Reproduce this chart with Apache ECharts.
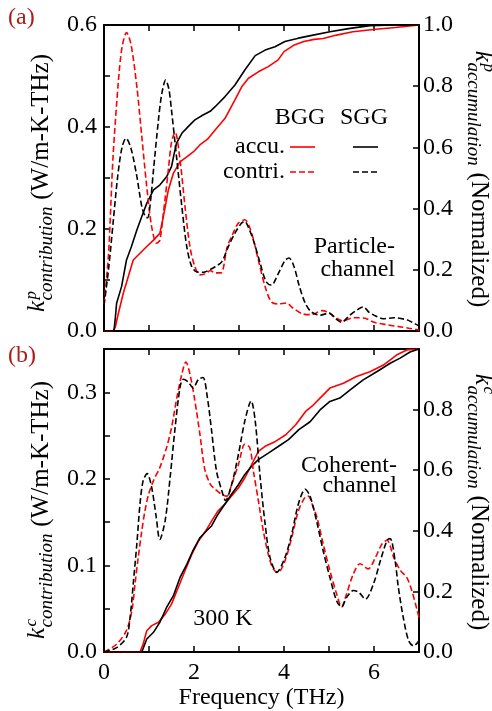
<!DOCTYPE html>
<html>
<head>
<meta charset="utf-8">
<script src="https://cdn.jsdelivr.net/npm/echarts@6/dist/echarts.min.js"></script>
<style>
html,body{margin:0;padding:0;background:#fff;}
#chart{width:492px;height:711px;}
</style>
</head>
<body>
<div id="chart"></div>
<script>
// ---------- data (frequency THz, value) ----------
const xTicks = [0, 2, 4, 6];
// (a) particle channel, contribution (W/m-K-THz)
const bggContribP = [[0,0.052],[0.1,0.15],[0.2,0.34],[0.32,0.49],[0.4,0.556],[0.5,0.585],[0.6,0.562],[0.73,0.479],[0.84,0.381],[0.95,0.283],[1.06,0.204],[1.17,0.172],[1.24,0.178],[1.32,0.231],[1.43,0.316],[1.5,0.37],[1.58,0.39],[1.69,0.335],[1.8,0.244],[1.91,0.165],[2.02,0.126],[2.13,0.11],[2.25,0.112],[2.36,0.118],[2.48,0.114],[2.6,0.114],[2.74,0.165],[2.87,0.192],[2.99,0.212],[3.13,0.218],[3.28,0.192],[3.43,0.139],[3.58,0.087],[3.72,0.057],[3.87,0.053],[4.05,0.055],[4.2,0.045],[4.4,0.034],[4.6,0.032],[4.85,0.04],[5.0,0.036],[5.15,0.026],[5.3,0.02],[5.55,0.026],[5.8,0.025],[6.0,0.017],[6.3,0.012],[6.6,0.008],[6.8,0.005],[7.0,0.002]];
const sggContribP = [[0,0.05],[0.1,0.12],[0.2,0.21],[0.3,0.3],[0.4,0.36],[0.49,0.378],[0.6,0.358],[0.73,0.303],[0.84,0.244],[0.92,0.224],[0.97,0.222],[1.04,0.26],[1.1,0.316],[1.21,0.414],[1.28,0.463],[1.37,0.492],[1.44,0.475],[1.5,0.433],[1.62,0.335],[1.73,0.244],[1.84,0.165],[1.95,0.126],[2.06,0.116],[2.2,0.115],[2.35,0.12],[2.47,0.126],[2.62,0.136],[2.76,0.165],[2.91,0.192],[3.06,0.212],[3.13,0.215],[3.2,0.205],[3.32,0.178],[3.47,0.133],[3.6,0.097],[3.72,0.09],[3.87,0.112],[4.02,0.138],[4.11,0.143],[4.22,0.127],[4.34,0.088],[4.47,0.055],[4.6,0.038],[4.8,0.031],[5.0,0.035],[5.15,0.024],[5.28,0.017],[5.45,0.03],[5.6,0.04],[5.76,0.047],[5.9,0.036],[6.05,0.029],[6.2,0.024],[6.45,0.026],[6.73,0.022],[6.85,0.017],[7.0,0.01]];
// (a) particle channel, accumulation (normalized)
const bggAccuP = [[0,0],[0.2,0],[0.25,0.012],[0.32,0.058],[0.43,0.124],[0.54,0.178],[0.65,0.232],[0.8,0.254],[0.95,0.276],[1.1,0.297],[1.24,0.319],[1.3,0.36],[1.36,0.406],[1.43,0.461],[1.54,0.515],[1.69,0.553],[1.84,0.569],[1.99,0.586],[2.13,0.608],[2.3,0.627],[2.47,0.657],[2.69,0.695],[2.91,0.755],[3.06,0.798],[3.21,0.826],[3.43,0.847],[3.65,0.864],[3.87,0.886],[4.0,0.913],[4.23,0.935],[4.44,0.946],[4.67,0.953],[4.87,0.956],[5.17,0.967],[5.53,0.978],[6.04,0.986],[6.48,0.992],[7.0,1.0]];
const sggAccuP = [[0,0],[0.22,0],[0.25,0.04],[0.28,0.091],[0.39,0.145],[0.5,0.232],[0.61,0.276],[0.73,0.33],[0.84,0.374],[0.95,0.417],[1.1,0.461],[1.24,0.477],[1.39,0.504],[1.5,0.537],[1.56,0.58],[1.61,0.613],[1.73,0.646],[1.87,0.668],[2.02,0.69],[2.2,0.706],[2.36,0.718],[2.47,0.733],[2.69,0.766],[2.91,0.804],[3.13,0.853],[3.36,0.9],[3.58,0.918],[3.8,0.929],[4.02,0.946],[4.32,0.957],[4.62,0.966],[5.02,0.978],[5.47,0.989],[5.91,0.998],[6.43,1.0],[7.0,1.0]];
// (b) coherent channel, contribution (W/m-K-THz)
const bggContribC = [[0,0],[0.28,0.009],[0.5,0.025],[0.62,0.048],[0.69,0.079],[0.76,0.109],[0.84,0.14],[0.91,0.163],[0.99,0.182],[1.1,0.198],[1.24,0.213],[1.39,0.236],[1.5,0.259],[1.62,0.294],[1.73,0.321],[1.82,0.335],[1.91,0.321],[2.02,0.29],[2.13,0.252],[2.24,0.211],[2.36,0.194],[2.47,0.188],[2.62,0.182],[2.73,0.18],[2.84,0.194],[2.99,0.217],[3.13,0.24],[3.24,0.236],[3.32,0.209],[3.43,0.175],[3.54,0.14],[3.65,0.113],[3.76,0.096],[3.87,0.092],[4.02,0.105],[4.17,0.132],[4.32,0.163],[4.47,0.179],[4.54,0.18],[4.65,0.167],[4.73,0.156],[4.87,0.125],[5.02,0.094],[5.17,0.067],[5.28,0.052],[5.39,0.067],[5.54,0.09],[5.69,0.102],[5.87,0.096],[6.03,0.109],[6.18,0.125],[6.29,0.129],[6.44,0.109],[6.59,0.094],[6.73,0.086],[6.84,0.071],[6.96,0.048],[7.0,0.04]];
const sggContribC = [[0,0],[0.28,0.005],[0.5,0.017],[0.58,0.04],[0.65,0.079],[0.73,0.125],[0.8,0.171],[0.87,0.198],[0.96,0.206],[1.06,0.19],[1.16,0.156],[1.24,0.13],[1.36,0.152],[1.47,0.202],[1.58,0.259],[1.69,0.306],[1.76,0.315],[1.87,0.312],[1.98,0.305],[2.1,0.315],[2.2,0.317],[2.3,0.293],[2.39,0.256],[2.5,0.209],[2.62,0.186],[2.7,0.175],[2.84,0.194],[2.99,0.229],[3.13,0.267],[3.27,0.29],[3.36,0.267],[3.47,0.202],[3.58,0.148],[3.69,0.109],[3.84,0.092],[4.02,0.109],[4.17,0.136],[4.32,0.171],[4.47,0.188],[4.58,0.18],[4.73,0.15],[4.87,0.117],[5.02,0.086],[5.17,0.059],[5.28,0.052],[5.39,0.063],[5.54,0.071],[5.66,0.069],[5.81,0.061],[5.99,0.079],[6.14,0.105],[6.29,0.129],[6.36,0.131],[6.47,0.105],[6.54,0.075],[6.65,0.04],[6.77,0.013],[6.88,0.007],[7.0,0.013]];
// (b) coherent channel, accumulation (normalized)
const bggAccuC = [[0,0],[0.8,0],[0.87,0.026],[0.95,0.07],[1.06,0.087],[1.21,0.098],[1.36,0.125],[1.5,0.158],[1.65,0.213],[1.8,0.268],[1.95,0.322],[2.1,0.366],[2.24,0.395],[2.39,0.432],[2.53,0.465],[2.68,0.487],[2.83,0.514],[2.99,0.542],[3.13,0.575],[3.28,0.618],[3.43,0.662],[3.58,0.679],[3.81,0.695],[4.04,0.717],[4.26,0.75],[4.48,0.794],[4.63,0.812],[4.8,0.838],[5.02,0.871],[5.32,0.887],[5.61,0.909],[5.91,0.925],[6.21,0.947],[6.5,0.98],[6.73,0.997],[7.0,1.0]];
const sggAccuC = [[0,0],[0.84,0],[0.95,0.043],[1.1,0.065],[1.24,0.098],[1.39,0.147],[1.54,0.185],[1.69,0.246],[1.84,0.289],[1.99,0.339],[2.13,0.377],[2.28,0.4],[2.39,0.416],[2.53,0.454],[2.68,0.487],[2.83,0.52],[2.99,0.553],[3.13,0.586],[3.28,0.613],[3.43,0.635],[3.66,0.657],[3.88,0.679],[4.1,0.701],[4.33,0.734],[4.58,0.76],[4.8,0.799],[5.02,0.827],[5.24,0.838],[5.47,0.865],[5.76,0.898],[6.06,0.925],[6.36,0.953],[6.58,0.97],[6.8,0.99],[7.0,1.0]];

// ---------- styling ----------
const FF = '"Liberation Serif", "Times New Roman", serif';
const RED = '#ff0000', BLK = '#000000', PANEL = '#b01c1c';
const FS = 24;

const ctx = document.createElement('canvas').getContext('2d');
function tw(t, font){ ctx.font = font; return ctx.measureText(t).width; }
function fnt(size, italic){ return (italic ? 'italic ' : '') + size + 'px ' + FF; }

function txt(x, yBase, t, size, italic, align, color){
  return { type:'text', x:x, y:yBase - 0.3375*size, silent:true,
    style:{ text:t, font:fnt(size, italic), fill:color||BLK,
      align:align||'left', verticalAlign:'middle', textAlign:align||'left', textVerticalAlign:'middle' } };
}

function axisTitle(gx, gy, rot, sup, sub, tail){
  const FM = 25, FSUP = 17, FSUB = 19;
  const kW = tw('k', fnt(FM, true));
  const supW = tw(sup, fnt(FSUP, true));
  const subW = tw(sub, fnt(FSUB, true));
  const tailW = tw(tail, fnt(FM, false));
  const total = kW + 1 + Math.max(supW + 1, subW) + tailW;
  const x0 = -total/2;
  return { type:'group', x:gx, y:gy, rotation:rot, silent:true, children:[
    txt(x0, -4, 'k', FM, true),
    txt(x0 + kW + 1.5, -13, sup, FSUP, true),
    txt(x0 + kW + 0.5, 3, sub, FSUB, true),
    txt(x0 + kW + 1 + Math.max(supW + 1, subW), 0, tail, FM, false)
  ]};
}

function xAx(gi, pos, showLabel){
  return { type:'value', gridIndex:gi, position:pos, min:0, max:7, interval:1,
    axisLine:{show:true, onZero:false, lineStyle:{color:BLK, width:2}},
    axisTick:{show:true, inside:true, length:6, lineStyle:{color:BLK, width:1.5}},
    axisLabel:{show:showLabel, margin:9, color:BLK, fontFamily:FF, fontSize:FS,
      formatter: v => (xTicks.indexOf(Math.round(v)) >= 0 ? String(Math.round(v)) : '')},
    splitLine:{show:false} };
}
function yAx(gi, pos, max, interval, fmt, margin){
  return { type:'value', gridIndex:gi, position:pos, min:0, max:max, interval:interval,
    axisLine:{show:true, onZero:false, lineStyle:{color:BLK, width:2}},
    axisTick:{show:true, inside:true, length:6, lineStyle:{color:BLK, width:1.5}},
    axisLabel:{show:true, margin:margin, color:BLK, fontFamily:FF, fontSize:FS, formatter:fmt, showMaxLabel:true, showMinLabel:true},
    splitLine:{show:false} };
}

function line(data, xi, yi, color, dashed){
  return { type:'line', data:data, xAxisIndex:xi, yAxisIndex:yi, showSymbol:false, symbol:'none',
    smooth: dashed ? 0.3 : false, silent:true,
    lineStyle:{ color:color, width:1.6, type: dashed ? [6,3] : 'solid' } };
}

const chart = echarts.init(document.getElementById('chart'));
const xA = xAx(1, 'bottom', true);
xA.name = 'Frequency (THz)';
xA.nameLocation = 'middle';
xA.nameGap = 34;
xA.nameTextStyle = {color:BLK, fontFamily:FF, fontSize:FS};

chart.setOption({
  animation:false,
  backgroundColor:'#fff',
  grid:[
    {left:104, top:25, width:315, height:306},
    {left:104, top:349, width:315, height:304}
  ],
  xAxis:[ xAx(0,'bottom',false), xAx(0,'top',false), xA, xAx(1,'top',false) ],
  yAxis:[
    yAx(0,'left',0.6,0.1, v => (Math.round(v*10)%2===0 ? v.toFixed(1) : ''), 7),
    yAx(0,'right',1.0,0.2, v => v.toFixed(1), 4),
    yAx(1,'left',0.35,0.05, v => (Math.round(v*100)%10===0 ? v.toFixed(1) : ''), 7),
    yAx(1,'right',1.0,0.2, v => (v > 0.99 ? '' : v.toFixed(1)), 4)
  ],
  series:[
    line(bggAccuP, 0, 1, RED, false),
    line(sggAccuP, 0, 1, BLK, false),
    line(bggContribP, 0, 0, RED, true),
    line(sggContribP, 0, 0, BLK, true),
    line(bggAccuC, 2, 3, RED, false),
    line(sggAccuC, 2, 3, BLK, false),
    line(bggContribC, 2, 2, RED, true),
    line(sggContribC, 2, 2, BLK, true)
  ],
  graphic:[
    axisTitle(50, 183, Math.PI/2, 'p', 'contribution', ' (W/m-K-THz)'),
    axisTitle(470, 179, -Math.PI/2, 'p', 'accumulation', ' (Normalized)'),
    axisTitle(50, 510, Math.PI/2, 'c', 'contribution', ' (W/m-K-THz)'),
    axisTitle(470, 502, -Math.PI/2, 'c', 'accumulation', ' (Normalized)'),
    txt(8, 26, '(a)', FS, false, 'left', PANEL),
    txt(8, 364, '(b)', FS, false, 'left', PANEL),
    txt(300, 126, 'BGG', FS, false, 'center'),
    txt(364, 126, 'SGG', FS, false, 'center'),
    txt(285, 155, 'accu.', FS, false, 'right'),
    txt(285, 180, 'contri.', FS, false, 'right'),
    {type:'line', silent:true, shape:{x1:290,y1:147,x2:315,y2:147}, style:{stroke:RED, lineWidth:1.6}},
    {type:'line', silent:true, shape:{x1:353,y1:147,x2:378,y2:147}, style:{stroke:BLK, lineWidth:1.6}},
    {type:'line', silent:true, shape:{x1:290,y1:172,x2:315,y2:172}, style:{stroke:RED, lineWidth:1.6, lineDash:[6,3]}},
    {type:'line', silent:true, shape:{x1:353,y1:172,x2:378,y2:172}, style:{stroke:BLK, lineWidth:1.6, lineDash:[6,3]}},
    txt(395, 255, 'Particle-', FS, false, 'right'),
    txt(395, 278, 'channel', FS, false, 'right'),
    txt(397, 474, 'Coherent-', FS, false, 'right'),
    txt(397, 494, 'channel', FS, false, 'right'),
    txt(223, 627, '300 K', FS, false, 'center')
  ]
});
</script>
</body>
</html>
